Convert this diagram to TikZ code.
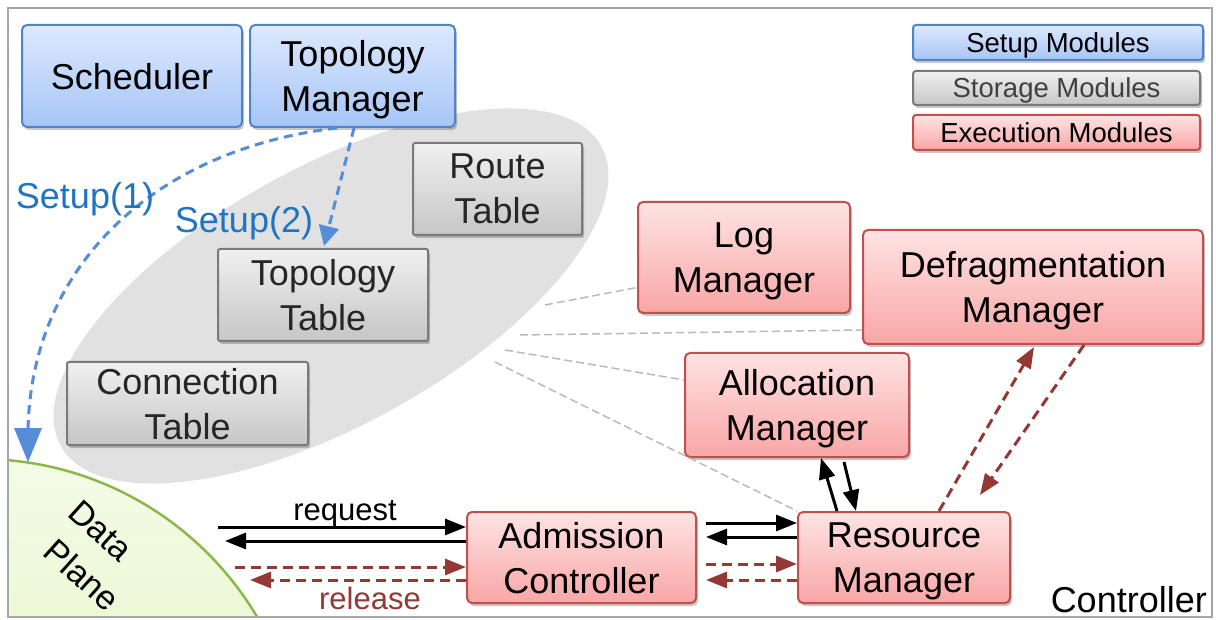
\documentclass[tikz,border=0pt]{standalone}
\usepackage{fontspec}
\setmainfont{Liberation Sans}
\usetikzlibrary{arrows.meta,shadows,calc,shapes.geometric}
\definecolor{setupT}{HTML}{DDE9FD}
\definecolor{setupB}{HTML}{A6C5F7}
\definecolor{setupD}{HTML}{4F84C9}
\definecolor{storT}{HTML}{F0F0F0}
\definecolor{storB}{HTML}{C6C6C6}
\definecolor{storD}{HTML}{7A7A7A}
\definecolor{exT}{HTML}{FEE3E3}
\definecolor{exB}{HTML}{F9A6A6}
\definecolor{exD}{HTML}{C0504D}
\definecolor{ellgray}{HTML}{E1E1E1}
\definecolor{blueline}{HTML}{558DD8}
\definecolor{bluetext}{HTML}{1F75C4}
\definecolor{darkred}{HTML}{953735}
\definecolor{dpT}{HTML}{F4FBE6}
\definecolor{dpB}{HTML}{D6EFA6}
\definecolor{dpD}{HTML}{8CB84A}
\definecolor{frame}{HTML}{A6A6A6}
\begin{document}
\begin{tikzpicture}[x=1pt,y=-1pt,
  box/.style={rounded corners=5pt, line width=2pt, align=center, inner sep=0pt,
    text depth=0pt, font=\fontsize{36}{45}\selectfont,
    drop shadow={shadow xshift=2pt,shadow yshift=-3pt,fill=black,opacity=0.22}},
  setupbox/.style={box, draw=setupD, top color=setupT, bottom color=setupB},
  storbox/.style={box, rounded corners=2pt, draw=storD, top color=storT, bottom color=storB, text=black!85},
  exbox/.style={box, draw=exD, top color=exT, bottom color=exB},
  legbox/.style={font=\fontsize{27.5}{30}\selectfont},
  blk/.style={line width=3pt, -{Triangle[length=21pt,width=16pt]}},
  red/.style={line width=3pt, darkred, dash pattern=on 10pt off 6pt, -{Triangle[length=21pt,width=16pt]}},
  setuparr/.style={line width=3pt, blueline, dash pattern=on 9pt off 6pt},
  link/.style={line width=1.5pt, black!27, dash pattern=on 8pt off 4pt},
  lbl/.style={font=\fontsize{36}{40}\selectfont, inner sep=0pt}
]
\useasboundingbox (0,0) rectangle (1216,620);
\fill[white] (0,0) rectangle (1216,620);
% storage ellipse
\node[ellipse, fill=ellgray, minimum width=618pt, minimum height=258pt, rotate=29, inner sep=0pt] (store) at (331,296) {};
% data plane
\begin{scope}
\clip (8,8) rectangle (1212,617);
\node[circle, minimum size=644pt, inner sep=0pt, draw=dpD, line width=2.5pt, top color=dpT, bottom color=dpB] (dp) at (-20,781) {};
\end{scope}
\draw[frame, line width=2pt] (8,8) rectangle (1212,617);
\node[lbl, rotate=-42, font=\fontsize{34}{40}\selectfont] (dpdata) at (101,531) {Data};
\node[lbl, rotate=-42, font=\fontsize{34}{40}\selectfont] (dpplane) at (82,575) {Plane};

% setup modules
\node[setupbox, minimum width=220pt, minimum height=102pt] (sched) at (132,76) {Scheduler};
\node[setupbox, minimum width=205pt, minimum height=102pt] (topo) at (352.5,76) {Topology\\Manager};
% storage
\node[storbox, minimum width=169pt, minimum height=92pt] (route) at (497.5,189) {Route\\Table};
\node[storbox, minimum width=210pt, minimum height=92pt] (ttab) at (323,295) {Topology\\Table};
\node[storbox, minimum width=241pt, minimum height=83pt] (conn) at (187.5,403.5) {Connection\\Table};
% execution
\node[exbox, minimum width=212pt, minimum height=111pt] (log) at (744,257.5) {Log\\Manager};
\node[exbox, minimum width=340pt, minimum height=114pt] (defrag) at (1033,287) {Defragmentation\\Manager};
\node[exbox, minimum width=224pt, minimum height=104pt] (alloc) at (797,405) {Allocation\\Manager};
\node[exbox, minimum width=229pt, minimum height=91pt] (adm) at (581.5,557.5) {Admission\\Controller};
\node[exbox, minimum width=212pt, minimum height=91pt] (res) at (904,557.5) {Resource\\Manager};

% legend
\node[setupbox, legbox, rounded corners=3pt, minimum width=290pt, minimum height=35pt] (leg1) at (1058,42.5) {Setup Modules};
\node[storbox, legbox, rounded corners=3pt, minimum width=287pt, minimum height=34pt, text=black!75] (leg2) at (1056.5,88) {Storage Modules};
\node[exbox, legbox, rounded corners=3pt, minimum width=287pt, minimum height=35pt] (leg3) at (1056.5,132.5) {Execution Modules};

\node[lbl, anchor=base east] (ctrl) at (1207,612) {Controller};

% gray links from storage
\coordinate (s1) at (545,305);
\coordinate (s2) at (520,335);
\coordinate (s3) at (505,350);
\coordinate (s4) at (495,362);
\draw[link] (s1) -- ($(log.west)+(0,30)$);
\draw[link] (s2) -- ($(defrag.west)+(0,43)$);
\draw[link] (s3) -- ($(alloc.west)+(0,-25)$);
\draw[link] (s4) -- (res.north west);

% setup arrows
\coordinate (su1) at (337,128);
\coordinate (su2) at (354,128);
\coordinate (dptop) at (28,462);
\draw[setuparr] (su1) .. controls (150,150) and (30,270) .. (28,432);
\fill[blueline] (dptop) -- (14,428) -- (42,428) -- cycle;
\draw[setuparr, -{Triangle[length=20pt,width=20pt]}] (su2) -- ($(ttab.north west)+(107,-2)$);
\node[lbl, text=bluetext] (setup1) at (85,199) {Setup(1)};
\node[lbl, text=bluetext] (setup2) at (244,223) {Setup(2)};

% data plane <-> admission
\coordinate (dq1) at (218,527);
\coordinate (dq2) at (225,541);
\coordinate (dr1) at (235,567);
\coordinate (dr2) at (250,580);
\draw[blk] (dq1) -- ($(adm.west)+(0,-30.5)$);
\draw[blk] ($(adm.west)+(0,-16.5)$) -- (dq2);
\draw[red] (dr1) -- ($(adm.west)+(0,9.5)$);
\draw[red] ($(adm.west)+(0,22.5)$) -- (dr2);
\node[lbl, font=\fontsize{31}{34}\selectfont] (reqlbl) at (345,514) {request};
\node[lbl, font=\fontsize{31}{34}\selectfont, text=darkred] (rellbl) at (370,598) {release};

% admission <-> resource
\draw[blk] ($(adm.east)+(9,-34.5)$) -- ($(res.west)+(0,-34.5)$);
\draw[blk] ($(res.west)+(0,-20.5)$) -- ($(adm.east)+(9,-20.5)$);
\draw[red] ($(adm.east)+(9,6.5)$) -- ($(res.west)+(0,6.5)$);
\draw[red] ($(res.west)+(0,22.5)$) -- ($(adm.east)+(9,22.5)$);

% resource <-> allocation
\draw[blk] ($(res.north west)+(40,0)$) -- ($(alloc.south west)+(137,0)$);
\draw[blk] ($(alloc.south west)+(160,4)$) -- ($(res.north west)+(59,0)$);

% resource <-> defrag
\coordinate (rdend) at (980,495);
\draw[red] ($(res.north west)+(142,0)$) -- ($(defrag.south west)+(172,2)$);
\draw[red] ($(defrag.south west)+(222,0)$) -- (rdend);
\end{tikzpicture}
\end{document}
